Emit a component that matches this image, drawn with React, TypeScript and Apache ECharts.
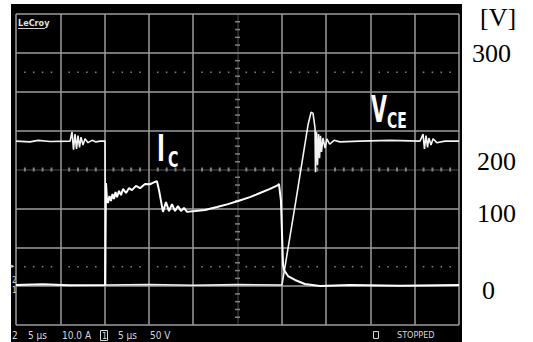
import React, { useEffect, useRef } from 'react';
import * as echarts from 'echarts';

// Scope settings: 5 us/div, Ic 10 A/div, VCE 50 V/div, ground ~1 div above bottom
const timeDivUs = 5;
const icPerDiv = 10;
const vcePerDiv = 50;
const groundDiv = 1.03;

// Collector current trace [time us, current A]
const icTrace: [number, number][] = [
  [0, 0], [3, 0.2], [6, -0.1], [10.05, 0], [10.16, 26.2], [10.27, 21.85], [10.38, 21.08],
  [10.55, 22.88], [10.72, 21.6], [10.89, 23.4], [11.06, 22.1], [11.23, 23.9], [11.4, 22.6],
  [11.63, 24.2], [11.85, 23.1], [12.08, 24.7], [12.42, 23.65], [12.75, 24.9], [13.09, 24.4],
  [13.54, 25.5], [14.0, 24.9], [14.56, 26.0], [15.12, 25.9], [15.69, 26.5], [15.91, 26.7],
  [16.14, 24.4], [16.59, 18.8], [16.93, 21.3],
  [17.27, 19.0], [17.61, 20.8], [17.95, 19.0], [18.28, 20.3], [18.62, 19.0], [18.96, 19.8],
  [19.3, 18.8], [20.2, 19.0], [21.33, 19.3], [22.69, 20.05], [23.93, 20.8], [25.06, 21.6],
  [26.41, 22.6], [27.54, 23.65], [28.67, 24.7], [29.57, 25.7], [29.68, 26.0], [29.9, 21.85],
  [30.14, 5.13], [30.25, 3.85], [30.7, 2.3], [31.49, 1.28], [32.6, 0.25], [34.31, -0.27],
  [37.7, 0], [43.34, -0.2], [50, 0]
];

// Collector-emitter voltage trace [time us, voltage V]
const vceTrace: [number, number][] = [
  [0, 185], [1.58, 184], [2.5, 186], [3.84, 184.5], [6.1, 185], [6.32, 197], [6.49, 174],
  [6.66, 194], [6.83, 175], [7.0, 192], [7.17, 177], [7.34, 190], [7.56, 180], [7.79, 188],
  [8.13, 183], [8.58, 186], [9.03, 184], [9.48, 185], [10.05, 185], [10.1, 0], [15, 0.5],
  [20, -0.3], [25, 0.4], [30.02, 0], [31.6, 109], [32.96, 206], [33.3, 222], [33.52, 221],
  [33.75, 202], [33.8, 145], [33.92, 197], [34.03, 154], [34.15, 194], [34.26, 163],
  [34.37, 192], [34.48, 171], [34.65, 189], [34.88, 176], [35.1, 188], [35.4, 181],
  [35.9, 186], [36.57, 184], [38.8, 185], [42.2, 186], [45.6, 185], [45.94, 194],
  [46.1, 175], [46.28, 192], [46.45, 177], [46.6, 189], [46.84, 180], [47.07, 188],
  [47.5, 183], [48.4, 185], [50, 185]
];

const voltTickLabels = ['[V]', '300', '200', '100', '0'];
const traceNames = ['I', 'C', 'V', 'CE'];
const bottomTexts = ['2', '5 µs', '10.0 A', '1', '5 µs', '50 V', 'STOPPED'];
const brandText = 'LeCroy';
const channelMarks = ['▸', '2', '1'];

const GRID = '#9c9c9c';
const DIM = 'rgba(150,150,150,0.35)';

export default function App() {
  const ref = useRef<HTMLDivElement>(null);
  useEffect(() => {
    if (!ref.current) return;
    const chart = echarts.init(ref.current, undefined, { renderer: 'svg' });

    const xCols = Array.from({ length: 11 }, (_, i) => (i === 5 ? DIM : GRID));
    const yCols = Array.from({ length: 9 }, (_, i) => (i === 4 ? DIM : GRID));

    const dots: number[][] = [];
    const hTicks: number[][] = [];
    const vTicks: number[][] = [];
    for (let t = 1; t < 50; t++) {
      if (t % 5 === 0) continue;
      dots.push([t, 1.5]);
      dots.push([t, 6.5]);
      hTicks.push([t, 4]);
    }
    for (let k = 1; k < 40; k++) {
      if (k % 5 === 0) continue;
      vTicks.push([25, k * 0.2]);
    }

    const icData = icTrace.map(([t, a]) => [t, groundDiv + a / icPerDiv]);
    const vceData = vceTrace.map(([t, v]) => [t, groundDiv + v / vcePerDiv]);

    const scopeFont = '"DejaVu Sans Condensed", "DejaVu Sans", sans-serif';
    const serif = '"Liberation Serif", "Times New Roman", serif';
    const txt = (text: string, x: number, y: number, size: number, fill: string, extra: any = {}) => ({
      type: 'text', x, y, z: 50, ...extra,
      style: { text, font: `${extra.weight || 'normal'} ${size}px ${extra.family || scopeFont}`, fill, textAlign: 'left', textVerticalAlign: 'middle' },
    });

    const labelYs = [17, 53, 161, 213, 290];
    const labelXs = [480, 472, 477, 477, 482];

    chart.setOption({
      animation: false,
      backgroundColor: '#ffffff',
      grid: { left: 16, top: 14, right: 74, bottom: 17 },
      xAxis: {
        type: 'value', min: 0, max: 10 * timeDivUs, interval: timeDivUs,
        axisLine: { show: false }, axisTick: { show: false }, axisLabel: { show: false },
        splitLine: { show: true, lineStyle: { color: xCols, width: 1.5 } },
      },
      yAxis: {
        type: 'value', min: 0, max: 8, interval: 1,
        axisLine: { show: false }, axisTick: { show: false }, axisLabel: { show: false },
        splitLine: { show: true, lineStyle: { color: yCols, width: 1.5 } },
      },
      graphic: [
        { type: 'rect', z: -100, shape: { x: 11, y: 4, width: 451, height: 338 }, style: { fill: '#000' } },
        ...voltTickLabels.map((s, i) => txt(s, labelXs[i], labelYs[i], 26, '#000', { family: serif })),
        txt(traceNames[0], 157, 147.5, 38, '#fff', { weight: 'bold', scaleX: 0.62 }),
        txt(traceNames[1], 168, 160, 22, '#fff', { weight: 'bold', scaleX: 0.72 }),
        txt(traceNames[2], 371, 108.5, 37, '#fff', { weight: 'bold', scaleX: 0.62 }),
        txt(traceNames[3], 387, 120.5, 21, '#fff', { weight: 'bold', scaleX: 0.74 }),
        txt(brandText, 18, 23, 9, '#e0e0e0', { weight: 'bold' }),
        { type: 'line', z: 50, shape: { x1: 18, y1: 28.5, x2: 45, y2: 28.5 }, style: { stroke: '#d0d0d0', lineWidth: 1 } },
        txt(bottomTexts[0], 12, 335, 10, '#d8d8d8'),
        txt(bottomTexts[1], 28, 335, 10, '#d8d8d8'),
        txt(bottomTexts[2], 62, 335, 10, '#d8d8d8'),
        { type: 'rect', z: 50, shape: { x: 100.5, y: 330.5, width: 7, height: 10 }, style: { fill: 'none', stroke: '#d8d8d8', lineWidth: 1 } },
        txt(bottomTexts[3], 102, 335.5, 9, '#d8d8d8'),
        txt(bottomTexts[4], 118, 335, 10, '#d8d8d8'),
        txt(bottomTexts[5], 150, 335, 10, '#d8d8d8'),
        { type: 'rect', z: 50, shape: { x: 373.5, y: 331.5, width: 5, height: 7 }, style: { fill: 'none', stroke: '#d8d8d8', lineWidth: 1 } },
        txt(bottomTexts[6], 397, 335, 9, '#d8d8d8'),
        txt(channelMarks[0], 11, 266, 7, '#d8d8d8'),
        txt(channelMarks[1], 12, 280, 8, '#d8d8d8'),
        txt(channelMarks[2], 12, 290, 8, '#d8d8d8'),
      ],
      series: [
        {
          type: 'scatter', data: dots, symbol: 'rect', symbolSize: [1.6, 1.6], z: 1, silent: true,
          itemStyle: { color: '#9c9c9c' },
        },
        {
          type: 'scatter', data: hTicks, symbol: 'rect', symbolSize: [2, 4], z: 1, silent: true,
          itemStyle: { color: '#9c9c9c' },
        },
        {
          type: 'scatter', data: vTicks, symbol: 'rect', symbolSize: [5, 1.5], z: 1, silent: true,
          itemStyle: { color: '#9c9c9c' },
        },
        {
          type: 'line', name: 'VCE', data: vceData, showSymbol: false, z: 3, silent: true,
          lineStyle: { color: '#f4f4f4', width: 1.6 },
        },
        {
          type: 'line', name: 'Ic', data: icData, showSymbol: false, z: 3, silent: true,
          lineStyle: { color: '#ffffff', width: 2 },
        },
      ],
    });
    return () => chart.dispose();
  }, []);
  return <div ref={ref} style={{ position: 'absolute', left: 0, top: 0, width: 533, height: 342 }} />;
}
